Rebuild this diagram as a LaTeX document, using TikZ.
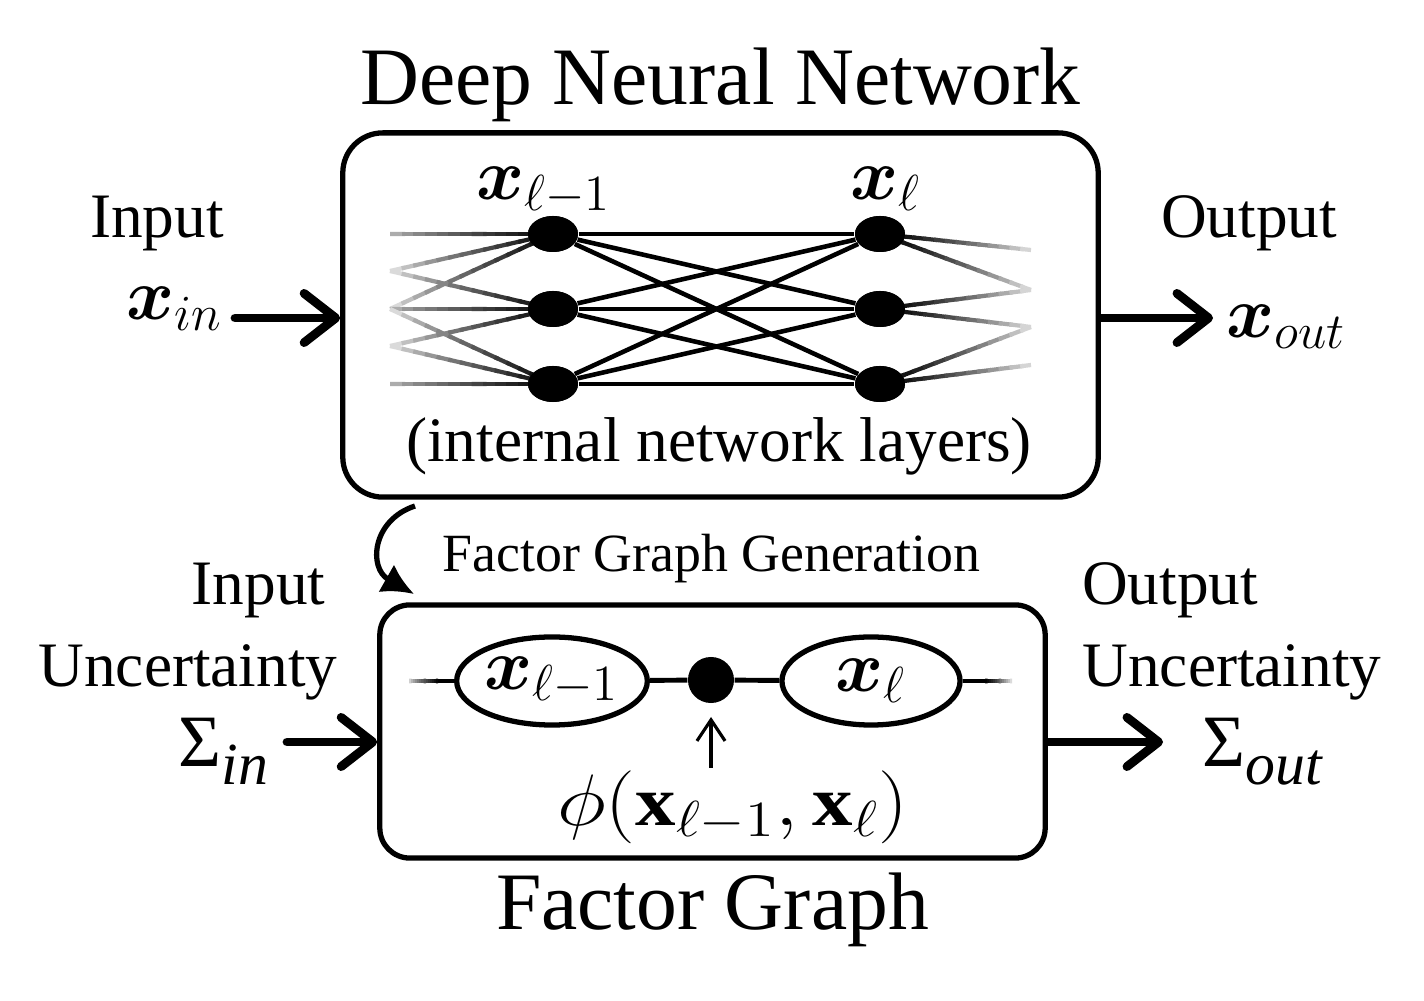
\documentclass[tikz,border=0pt]{standalone}
\usepackage{amsmath,bm}
\usepackage{fontspec}
\setmainfont{Liberation Serif}
\usetikzlibrary{shapes.geometric,arrows.meta,calc}

\newcommand\fadeseg[5]{%
  \foreach \k in {0,...,13}{%
    \pgfmathsetmacro\ta{\k/14}%
    \pgfmathsetmacro\tb{min(1,(\k+1.3)/14)}%
    \pgfmathsetmacro\pc{#3+(#4-#3)*((\k+0.5)/14)^0.7}%
    \draw[line width=#5, draw=black!\pc] ($(#1)!\ta!(#2)$) -- ($(#1)!\tb!(#2)$);
  }}
\newcommand\fadesegr[5]{%
  \foreach \k in {0,...,13}{%
    \pgfmathsetmacro\ta{\k/14}%
    \pgfmathsetmacro\tb{min(1,(\k+1.3)/14)}%
    \pgfmathsetmacro\pc{#3+(#4-#3)*((\k+0.5)/14)^1.4}%
    \draw[line width=#5, draw=black!\pc] ($(#1)!\ta!(#2)$) -- ($(#1)!\tb!(#2)$);
  }}

\tikzset{
  box/.style={draw, line width=1.5pt, rounded corners=0.4cm, inner sep=0pt},
  neuron/.style={ellipse, fill=black, minimum width=0.5cm, minimum height=0.36cm, inner sep=0pt},
  varnode/.style={ellipse, draw, line width=1.5pt, minimum width=1.78cm, minimum height=0.88cm, inner sep=0pt, font=\fontsize{20}{24}\selectfont},
  facnode/.style={circle, fill=black, minimum size=0.46cm, inner sep=0pt},
  edge/.style={line width=1.3pt},
  fanw/.style={},
  fgline/.style={line width=1.4pt},
  bigarrow/.style={line width=2.5pt, line cap=round, -{Straight Barb[length=9pt,width=14pt,line cap=round,line join=round]}},
  lbl/.style={font=\fontsize{18}{20}\selectfont, inner sep=0pt, anchor=base},
  ttl/.style={font=\fontsize{23.2}{26}\selectfont, inner sep=0pt, anchor=base},
  mth/.style={font=\fontsize{20}{24}\selectfont, inner sep=0pt},
  sig/.style={font=\fontsize{21}{24}\selectfont, inner sep=0pt, anchor=base west},
}
\newcommand\sigsub[1]{\raisebox{-0.17cm}{\fontsize{17}{20}\selectfont\itshape #1}}

\begin{document}
\begin{tikzpicture}[x=0.01cm,y=-0.01cm]
\useasboundingbox[fill=white] (0,0) rectangle (1424,1001);

% titles
\node[ttl] (t1) at (720.5,105) {Deep Neural Network};
\node[ttl] (t2) at (712.5,930) {Factor Graph};

% DNN box
\node[box, minimum width=7.55cm, minimum height=3.64cm] (dnn) at (720.5,315) {};

% neurons
\node[neuron] (l1) at (553,234) {};
\node[neuron] (l2) at (553,309) {};
\node[neuron] (l3) at (553,384) {};
\node[neuron] (r1) at (880,234) {};
\node[neuron] (r2) at (880,309) {};
\node[neuron] (r3) at (880,384) {};

\foreach \a in {1,2,3}{\foreach \b in {1,2,3}{\draw[edge] (l\a) -- (r\b);}}

% left fan points
\coordinate (L1) at (390,234);
\coordinate (L2) at (390,271);
\coordinate (L3) at (390,309);
\coordinate (L4) at (390,346);
\coordinate (L5) at (390,384);
\fadeseg{L1}{l1}{25}{100}{1.2pt}
\fadeseg{L2}{l1}{5}{100}{1.2pt}
\fadeseg{L3}{l1}{5}{100}{1.2pt}
\fadeseg{L2}{l2}{5}{100}{1.2pt}
\fadeseg{L3}{l2}{25}{100}{1.2pt}
\fadeseg{L4}{l2}{5}{100}{1.2pt}
\fadeseg{L3}{l3}{5}{100}{1.2pt}
\fadeseg{L4}{l3}{5}{100}{1.2pt}
\fadeseg{L5}{l3}{25}{100}{1.2pt}

% right fan points
\coordinate (R1) at (1031,250);
\coordinate (R2) at (1031,290);
\coordinate (R3) at (1031,327);
\coordinate (R4) at (1031,365);
\fadesegr{r1}{R1}{100}{12}{1.2pt}
\fadesegr{r1}{R2}{100}{12}{1.2pt}
\fadesegr{r2}{R2}{100}{12}{1.2pt}
\fadesegr{r2}{R3}{100}{12}{1.2pt}
\fadesegr{r3}{R3}{100}{12}{1.2pt}
\fadesegr{r3}{R4}{100}{12}{1.2pt}

% redraw neurons on top
\foreach \n in {l1,l2,l3,r1,r2,r3}{\fill (\n) ellipse [x radius=25, y radius=18];}

\node[mth, anchor=base] (xlm1) at (544,200) {$\bm{x}_{\ell-1}$};
\node[mth, anchor=base] (xl) at (886,200) {$\bm{x}_{\ell}$};
\node[lbl] (inner) at (719,462) {(internal network layers)};

% top side labels and arrows
\node[lbl] (inlab) at (157,238) {Input};
\node[lbl] (outlab) at (1249,238) {Output};
\node[mth, anchor=base west] (xin) at (126,320) {$\bm{x}_{in}$};
\node[mth, anchor=base west] (xout) at (1226,338) {$\bm{x}_{out}$};
\coordinate (ain) at (235,318);
\coordinate (aout) at (1213,318);
\draw[bigarrow] (ain) -- (ain -| dnn.west);
\draw[bigarrow] (aout -| dnn.east) -- (aout);

% factor graph generation arrow
\coordinate (cs) at (415,506);
\coordinate (ce) at (414,594);
\draw[line width=1.5pt, -{Latex[length=9pt,width=9pt]}] (cs) .. controls (372,520) and (368,568) .. (ce);
\node[font=\fontsize{15.3}{18}\selectfont, inner sep=0pt, anchor=base] (fgg) at (711.5,572) {Factor Graph Generation};

% factor graph box
\node[box, rounded corners=0.3cm, minimum width=6.65cm, minimum height=2.53cm] (fg) at (712.5,731.5) {};
\node[varnode] (v1) at (552,681) {$\bm{x}_{\ell-1}$};
\node[varnode] (v2) at (871,681) {$\bm{x}_{\ell}$};
\node[facnode] (fac) at (711,680) {};
\draw[fgline] (v1) -- (fac) -- (v2);
\coordinate (fl0) at (409,681);
\coordinate (fl1) at (438,681);
\coordinate (fr1) at (985,681);
\coordinate (fr0) at (1012,681);
\draw[fgline] (fl1) -- (v1);
\draw[fgline] (v2) -- (fr1);
\fadeseg{fl0}{fl1}{10}{100}{1.4pt}
\fadesegr{fr1}{fr0}{100}{10}{1.4pt}

\coordinate (ua) at (711,768);
\coordinate (ub) at (711,717);
\draw[line width=0.9pt, -{Straight Barb[length=6pt,width=8pt]}] (ua) -- (ub);
\node[mth, anchor=base] (phi) at (733,826) {\scalebox{1.15}[1]{$\phi(\mathbf{x}_{\ell-1},\mathbf{x}_{\ell})$}};

% bottom side labels and arrows
\node[lbl] (inu1) at (258.5,605) {Input};
\node[lbl] (inu2) at (188,687) {Uncertainty};
\node[sig] (sin) at (178,767) {Σ\sigsub{in}};
\node[lbl] (ou1) at (1170,605) {Output};
\node[lbl] (ou2) at (1232,687) {Uncertainty};
\node[sig] (sout) at (1202,767) {Σ\sigsub{out}};
\coordinate (bin) at (287,742);
\coordinate (bout) at (1163,742);
\draw[bigarrow] (bin) -- (bin -| fg.west);
\draw[bigarrow] (bout -| fg.east) -- (bout);
\end{tikzpicture}
\end{document}
